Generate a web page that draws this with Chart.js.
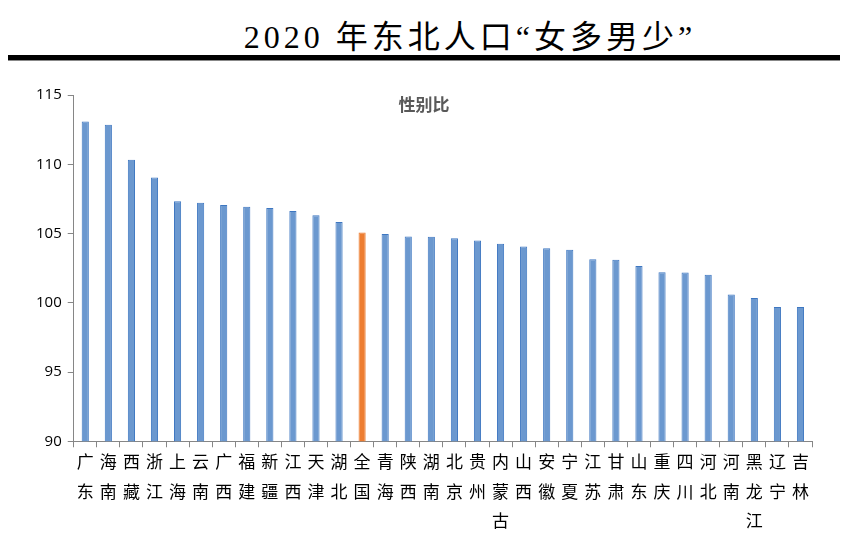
<!DOCTYPE html>
<html>
<head>
<meta charset="utf-8">
<script src="https://cdn.jsdelivr.net/npm/chart.js@4"></script>
<style>
  body { margin: 0; background: #fff; width: 850px; height: 539px; overflow: hidden; position: relative; }
  #title { position: absolute; top: 11px; left: 0; width: 940px; text-align: center; letter-spacing: 4px;
    font-family: "Liberation Serif", "Noto Sans CJK SC", serif; font-size: 32px; color: #000; }
  #rule { position: absolute; top: 55px; left: 8px; width: 832px; height: 5px; background: #000;
    box-shadow: 0 1px 0 #888; }
  #wrap { position: absolute; left: 0; top: 70px; width: 850px; height: 469px; }
</style>
</head>
<body>
<div id="title">2020 年东北人口“女多男少”</div>
<div id="rule"></div>
<div id="wrap"><canvas id="ratioChart"></canvas></div>
<script>
const provinces = ["广东", "海南", "西藏", "浙江", "上海", "云南", "广西", "福建", "新疆", "江西", "天津", "湖北",
  "全国", "青海", "陕西", "湖南", "北京", "贵州", "内蒙古", "山西", "安徽", "宁夏", "江苏", "甘肃",
  "山东", "重庆", "四川", "河北", "河南", "黑龙江", "辽宁", "吉林"];
const sexRatio = [113.08, 112.86, 110.32, 109.04, 107.33, 107.22, 107.05, 106.94, 106.85, 106.62, 106.31, 105.83,
  105.07, 104.96, 104.78, 104.77, 104.65, 104.50, 104.26, 104.06, 103.94, 103.83, 103.15, 103.11,
  102.65, 102.21, 102.19, 102.02, 100.60, 100.35, 99.70, 99.69];
const yTicks = [90, 95, 100, 105, 110, 115];
const seriesLabel = "性别比";

const barColors = provinces.map((p) => (p === "全国" ? "#ed7d31" : "#6b98cf"));
const borderColors = provinces.map((p) => (p === "全国" ? "#ed7d31" : "#3e77c1"));

const innerLabel = {
  id: "innerLabel",
  afterDraw(chart) {
    const { ctx, chartArea } = chart;
    ctx.save();
    ctx.font = "bold 17px 'Noto Sans CJK SC'";
    ctx.fillStyle = "#595959";
    ctx.textAlign = "center";
    ctx.textBaseline = "middle";
    ctx.fillText(seriesLabel, 424, chartArea.top + 10);
    ctx.restore();
  },
};

const ctx = document.getElementById("ratioChart").getContext("2d");
new Chart(ctx, {
  type: "bar",
  data: {
    labels: provinces.map((p) => p.split("")),
    datasets: [
      {
        label: seriesLabel,
        data: sexRatio,
        backgroundColor: barColors,
        borderColor: borderColors,
        borderWidth: 1,
        barPercentage: 0.62,
        categoryPercentage: 0.5,
      },
    ],
  },
  options: {
    responsive: true,
    maintainAspectRatio: false,
    animation: false,
    layout: { padding: { top: 25, right: 38, left: 30, bottom: 4 } },
    plugins: {
      legend: { display: false },
      tooltip: { enabled: false },
    },
    scales: {
      x: {
        grid: { display: true, drawOnChartArea: false, offset: true, color: "#868686", tickLength: 6 },
        border: { color: "#868686", width: 1 },
        ticks: {
          maxRotation: 0,
          autoSkip: false,
          color: "#000",
          padding: 0,
          font: { family: "'Noto Sans CJK SC'", size: 17, lineHeight: 1.72 },
        },
      },
      y: {
        min: 90,
        max: 115,
        afterBuildTicks: (axis) => { axis.ticks = yTicks.map((v) => ({ value: v })); },
        grid: { display: true, drawOnChartArea: false, color: "#868686", tickLength: 6 },
        border: { color: "#868686", width: 1 },
        ticks: {
          color: "#000",
          padding: 6,
          font: { family: "'Open Sans', sans-serif", size: 15 },
        },
      },
    },
  },
  plugins: [innerLabel],
});
</script>
</body>
</html>
